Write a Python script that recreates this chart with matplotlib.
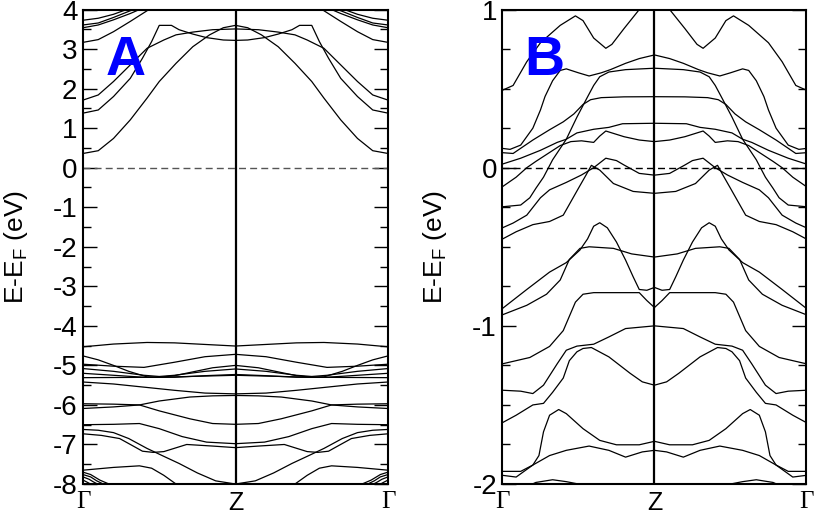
import matplotlib
matplotlib.use("Agg")
import matplotlib.pyplot as plt
from matplotlib.ticker import MultipleLocator

plt.rcParams["font.family"] = ["Liberation Sans", "DejaVu Sans"]
plt.rcParams["axes.unicode_minus"] = False

# k runs from Gamma (0) to Z (1); the Z -> Gamma half is the mirror image
kpath_labels = ["Γ", "Z", "Γ"]

# Panel A: wide energy window, E-E_F in eV
bands_a = [
    ([0, 0.1, 0.2, 0.31, 0.42, 0.5, 0.61, 0.72, 0.83, 0.92, 1.0],
     [0.36, 0.43, 0.74, 1.21, 1.76, 2.18, 2.64, 3.06, 3.36, 3.54, 3.6]),
    ([0, 0.1, 0.2, 0.31, 0.39, 0.45, 0.5, 0.58, 0.63, 0.72, 0.81, 0.92, 1.0],
     [1.38, 1.46, 1.8, 2.26, 2.77, 3.19, 3.6, 3.6, 3.49, 3.38, 3.29, 3.23, 3.22]),
    ([0, 0.1, 0.2, 0.31, 0.42, 0.53, 0.61, 0.72, 0.85, 1.0],
     [1.71, 1.84, 2.18, 2.6, 3.02, 3.23, 3.36, 3.43, 3.49, 3.51]),
    ([0, 0.1, 0.2, 0.31, 0.42, 0.5], [3.17, 3.24, 3.44, 3.7, 3.97, 4.15]),
    ([0, 0.1, 0.2, 0.31, 0.4], [3.54, 3.61, 3.74, 3.9, 4.05]),
    ([0, 0.1, 0.2, 0.31, 0.38], [3.61, 3.66, 3.8, 3.97, 4.05]),
    ([0, 0.1, 0.2, 0.3], [3.73, 3.78, 3.88, 4.02]),
    ([0, 0.2, 0.42, 0.6, 0.8, 1.0], [-4.53, -4.46, -4.42, -4.43, -4.47, -4.51]),
    ([0, 0.1, 0.2, 0.3, 0.42, 0.5, 0.6, 0.7, 0.85, 1.0],
     [-4.76, -4.86, -5.0, -5.15, -5.29, -5.3, -5.26, -5.18, -5.06, -5.0]),
    ([0, 0.2, 0.4, 0.6, 0.8, 1.0], [-4.97, -5.02, -5.05, -4.92, -4.78, -4.72]),
    ([0, 0.2, 0.4, 0.5, 0.6, 0.8, 1.0], [-5.08, -5.15, -5.25, -5.28, -5.25, -5.15, -5.09]),
    ([0, 0.2, 0.4, 0.6, 0.8, 1.0], [-5.2, -5.25, -5.3, -5.3, -5.26, -5.23]),
    ([0, 0.5, 1.0], [-5.31, -5.3, -5.25]),
    ([0, 0.2, 0.4, 0.6, 0.8, 1.0], [-5.42, -5.47, -5.55, -5.63, -5.7, -5.72]),
    ([0, 0.2, 0.37, 0.5, 0.7, 0.85, 1.0], [-5.97, -5.98, -6.0, -6.15, -6.35, -6.47, -6.49]),
    ([0, 0.2, 0.37, 0.5, 0.7, 0.85, 1.0], [-6.09, -6.05, -6.0, -5.9, -5.8, -5.77, -5.76]),
    ([0, 0.2, 0.37, 0.5, 0.65, 0.81, 1.0], [-6.5, -6.49, -6.47, -6.6, -6.8, -6.94, -6.98]),
    ([0, 0.1, 0.2, 0.3, 0.42, 0.53, 0.63, 0.75, 0.87, 1.0],
     [-6.62, -6.64, -6.7, -6.85, -7.1, -7.3, -7.48, -7.72, -7.92, -8.0]),
    ([0, 0.12, 0.24, 0.32, 0.39, 0.46, 0.53, 0.68, 0.85, 1.0],
     [-6.73, -6.77, -6.85, -7.02, -7.17, -7.2, -7.18, -7.0, -7.04, -7.08]),
    ([0, 0.2, 0.37, 0.45, 0.53, 0.61, 0.66], [-7.65, -7.58, -7.54, -7.6, -7.78, -8.0, -8.1]),
    ([0, 0.05, 0.11, 0.2], [-7.70, -7.76, -7.9, -8.05]),
    ([0, 0.05, 0.09, 0.16], [-7.76, -7.82, -7.92, -8.05]),
    ([0, 0.04, 0.07, 0.12], [-7.82, -7.88, -7.95, -8.05]),
    ([0, 0.04, 0.06], [-7.9, -7.98, -8.05]),
]

# Panel B: zoom around the Fermi level
bands_b = [
    ([0, 0.07, 0.16, 0.25, 0.38, 0.48, 0.53, 0.6, 0.68, 0.72, 0.8, 0.9, 1.0],
     [0.49, 0.52, 0.67, 0.79, 0.9, 0.96, 0.93, 0.82, 0.755, 0.78, 0.88, 1.0, 1.1]),
    ([0, 0.05, 0.12, 0.2, 0.25, 0.28, 0.33, 0.38, 0.42, 0.5, 0.57, 0.65, 0.71, 0.81, 0.9, 1.0],
     [0.122, 0.116, 0.143, 0.25, 0.365, 0.45, 0.55, 0.615, 0.625, 0.6, 0.58, 0.6, 0.62, 0.66, 0.69, 0.713]),
    ([0, 0.07, 0.2, 0.31, 0.4, 0.47, 0.53, 0.58, 0.65, 0.8, 1.0],
     [0.095, 0.09, 0.175, 0.24, 0.29, 0.34, 0.4, 0.43, 0.443, 0.448, 0.449]),
    ([0, 0.12, 0.25, 0.36, 0.42, 0.49, 0.6, 0.7, 0.79, 1.0],
     [0.023, 0.06, 0.11, 0.16, 0.18, 0.22, 0.243, 0.255, 0.278, 0.281]),
    ([0, 0.09, 0.16, 0.22, 0.3, 0.38, 0.45, 0.52, 0.6, 0.64, 0.68, 0.8, 0.9, 1.0],
     [-0.12, -0.06, 0.0, 0.04, 0.09, 0.14, 0.165, 0.17, 0.16, 0.2, 0.232, 0.196, 0.175, 0.165]),
    ([0, 0.12, 0.18, 0.22, 0.27, 0.33, 0.42, 0.49, 0.55, 0.6, 0.64, 0.7, 0.81, 1.0],
     [-0.247, -0.236, -0.19, -0.13, -0.06, 0.05, 0.18, 0.32, 0.43, 0.52, 0.575, 0.605, 0.62, 0.629]),
    ([0, 0.07, 0.16, 0.25, 0.31, 0.42, 0.52, 0.6, 0.68, 0.75, 0.8, 0.9, 1.0],
     [-0.38, -0.35, -0.3, -0.19, -0.14, -0.093, -0.046, 0.0, 0.06, 0.045, 0.017, -0.036, -0.047]),
    ([0, 0.09, 0.2, 0.31, 0.4, 0.45, 0.5, 0.55, 0.585, 0.64, 0.73, 0.86, 1.0],
     [-0.451, -0.405, -0.36, -0.34, -0.3, -0.215, -0.13, -0.046, 0.015, -0.015, -0.1, -0.15, -0.162]),
    ([0, 0.16, 0.31, 0.42, 0.51, 0.56, 0.6, 0.64, 0.69, 0.75, 0.81, 0.86, 0.9, 0.95, 1.0],
     [-0.89, -0.77, -0.66, -0.6, -0.52, -0.45, -0.37, -0.348, -0.38, -0.47, -0.584, -0.69, -0.77, -0.775, -0.757]),
    ([0, 0.16, 0.29, 0.38, 0.44, 0.51, 0.57, 0.73, 0.85, 1.0],
     [-0.93, -0.87, -0.8, -0.71, -0.58, -0.51, -0.5, -0.51, -0.545, -0.565]),
    ([0, 0.18, 0.31, 0.4, 0.44, 0.48, 0.53, 0.6, 0.9, 0.95, 1.0],
     [-1.24, -1.2, -1.13, -1.03, -0.94, -0.85, -0.8, -0.79, -0.79, -0.84, -0.884]),
    ([0, 0.12, 0.2, 0.27, 0.36, 0.42, 0.49, 0.6, 0.7, 0.81, 1.0],
     [-1.407, -1.413, -1.428, -1.375, -1.24, -1.154, -1.128, -1.116, -1.07, -1.017, -1.0]),
    ([0, 0.09, 0.2, 0.27, 0.33, 0.4, 0.44, 0.49, 0.53, 0.585, 0.7, 0.84, 0.92, 1.0],
     [-1.612, -1.565, -1.5, -1.49, -1.42, -1.33, -1.22, -1.164, -1.143, -1.137, -1.196, -1.3, -1.354, -1.375]),
    ([0, 0.12, 0.2, 0.24, 0.27, 0.31, 0.37, 0.42, 0.53, 0.64, 0.75, 0.9, 1.0],
     [-1.92, -1.92, -1.88, -1.82, -1.67, -1.565, -1.529, -1.555, -1.65, -1.724, -1.752, -1.752, -1.73]),
    ([0, 0.09, 0.2, 0.31, 0.42, 0.57, 0.7, 0.81, 0.92, 1.0],
     [-1.945, -1.956, -1.88, -1.82, -1.787, -1.76, -1.787, -1.83, -1.797, -1.787]),
    ([0.15, 0.22, 0.33, 0.42, 0.5, 0.55],
     [-2.02, -1.99, -1.973, -1.985, -2.0, -2.02]),
]


def mirror(k, e):
    # Gamma-Z then back Z-Gamma
    k_full = list(k) + [2 - x for x in k[::-1]]
    e_full = list(e) + list(e[::-1])
    return k_full, e_full


fig = plt.figure(figsize=(8.17, 5.19), dpi=100)
ax_a = fig.add_axes([0.1016, 0.0674, 0.3733, 0.9142])
ax_b = fig.add_axes([0.6150, 0.0674, 0.3721, 0.9142])

panels = [
    (ax_a, bands_a, (-8, 4), 1, 0.5, "A", "#555555"),
    (ax_b, bands_b, (-2, 1), 1, 0.25, "B", "black"),
]

for ax, bands, ylim, major, minor, letter, dash_col in panels:
    for k, e in bands:
        kk, ee = mirror(k, e)
        ax.plot(kk, ee, color="black", lw=0.9)
    ax.axhline(0, color=dash_col, lw=1.0, dashes=(5, 3))
    ax.axvline(1, color="black", lw=1.6)
    ax.set_xlim(0, 2)
    ax.set_ylim(*ylim)
    ax.yaxis.set_major_locator(MultipleLocator(major))
    ax.yaxis.set_minor_locator(MultipleLocator(minor))
    ax.set_xticks([0, 1, 2])
    ax.set_xticklabels(kpath_labels)
    for lab in ax.get_xticklabels():
        if lab.get_text() == "Γ":
            lab.set_fontfamily("Liberation Serif")
    ax.tick_params(axis="x", length=0, pad=5, labelsize=18)
    ax.tick_params(axis="y", which="both", direction="in", left=True, right=True,
                   labelsize=20, pad=4)
    ax.tick_params(axis="y", which="major", length=10, width=1.0)
    ax.tick_params(axis="y", which="minor", length=5.8, width=1.0)
    for sp in ax.spines.values():
        sp.set_linewidth(1.5)
    ax.set_ylabel("E-E$_\\mathregular{F}$ (eV)", fontsize=19)
    ax.yaxis.set_label_coords(-0.175, 0.5)
    ax.text(0.139, 0.863, letter, transform=ax.transAxes, color="#0000ff",
            fontsize=40, fontweight="bold", ha="center", va="baseline")

fig.savefig("out.png", dpi=100)
